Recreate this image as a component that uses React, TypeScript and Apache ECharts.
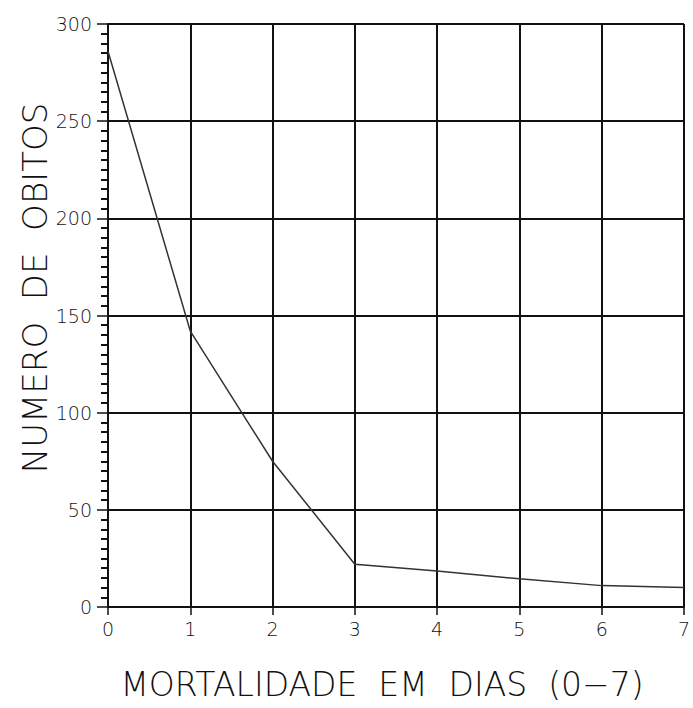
import React, { useEffect, useRef } from "react";
import * as echarts from "echarts";

const days = [0, 1, 2, 3, 4, 5, 6, 7];
const deaths = [286, 142, 75, 22, 18.5, 14.5, 11, 10];
const xTitle = "MORTALIDADE  EM  DIAS  (0\u22127)";
const yTitle = "NUMERO  DE  OBITOS";

export default function App() {
  const ref = useRef<HTMLDivElement>(null);
  useEffect(() => {
    const chart = echarts.init(ref.current!, undefined, { renderer: "svg" });
    const font = "DejaVu Sans";
    chart.setOption({
      animation: false,
      backgroundColor: "#ffffff",
      grid: { left: 108, right: 6, top: 24, bottom: 101, containLabel: false },
      xAxis: {
        type: "value",
        min: 0,
        max: 7,
        interval: 1,
        axisLine: { show: true, onZero: false, lineStyle: { color: "#111", width: 2 } },
        axisTick: { show: true, length: 8, lineStyle: { color: "#111", width: 1.5 } },
        axisLabel: { color: "#111", fontSize: 19, fontFamily: font, fontWeight: 300, margin: 12 },
        splitLine: { show: true, lineStyle: { color: "#111", width: 2 } },
      },
      yAxis: {
        type: "value",
        min: 0,
        max: 300,
        interval: 50,
        axisLine: { show: true, lineStyle: { color: "#111", width: 2 } },
        axisTick: { show: true, length: 11, lineStyle: { color: "#111", width: 1.5 } },
        minorTick: { show: true, splitNumber: 10, length: 7, lineStyle: { color: "#111", width: 2 } },
        axisLabel: { color: "#111", fontSize: 19, fontFamily: font, fontWeight: 300, margin: 16 },
        splitLine: { show: true, lineStyle: { color: "#111", width: 2 } },
      },
      series: [
        {
          type: "line",
          data: days.map((d, i) => [d, deaths[i]]),
          symbol: "none",
          lineStyle: { color: "#333", width: 1.5 },
        },
      ],
      graphic: [
        {
          type: "text",
          x: 35,
          y: 288,
          rotation: Math.PI / 2,
          style: {
            text: yTitle,
            fontSize: 34,
            fontFamily: font,
            fontWeight: 300,
            fill: "#111",
            align: "center",
            verticalAlign: "middle",
          },
        },
        {
          type: "text",
          x: 382,
          y: 684,
          style: {
            text: xTitle,
            fontSize: 33,
            fontFamily: font,
            fontWeight: 300,
            fill: "#111",
            align: "center",
            verticalAlign: "middle",
          },
        },
      ],
    });
    return () => chart.dispose();
  }, []);
  return (
    <div
      ref={ref}
      style={{ position: "fixed", left: 0, top: 0, width: 693, height: 708 }}
    />
  );
}
